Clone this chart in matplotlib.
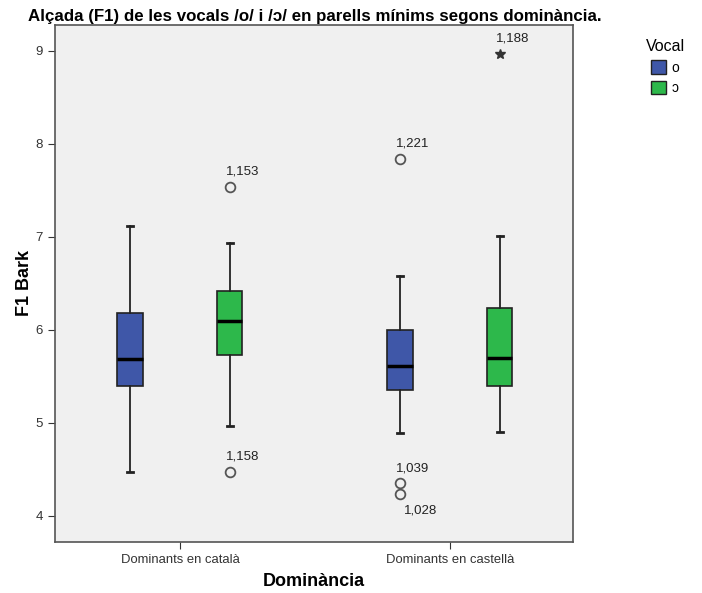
import matplotlib
matplotlib.use("Agg")
import matplotlib.pyplot as plt
import matplotlib.patches as mpatches

plt.rcParams['font.family'] = ['Liberation Sans', 'DejaVu Sans']

groups = ["Dominants en català", "Dominants en castellà"]
vocals = ["o", "ɔ"]
colors = ["#3F57A8", "#2DB84B"]

# whislo, q1, med, q3, whishi  per group, per vocal
stats_o = [(4.47, 5.40, 5.69, 6.18, 7.12), (4.89, 5.35, 5.61, 6.00, 6.58)]
stats_c = [(4.97, 5.73, 6.10, 6.42, 6.94), (4.90, 5.40, 5.70, 6.24, 7.01)]

# outliers: (group, vocal, value, label)
outliers = [(0, 1, 7.54, "1,153"), (0, 1, 4.47, "1,158"),
            (1, 0, 7.84, "1,221"), (1, 0, 4.35, "1,039"), (1, 0, 4.24, "1,028")]
extremes = [(1, 1, 8.97, "1,188")]

fig = plt.figure(figsize=(7.02, 5.93), dpi=100)
ax = fig.add_axes([0.0783, 0.086, 0.738, 0.872])
ax.set_facecolor("#F0F0F0")

offset = 0.185
width = 0.093
for v, st in enumerate([stats_o, stats_c]):
    bs = []
    pos = []
    for g, (lo, q1, med, q3, hi) in enumerate(st):
        bs.append(dict(whislo=lo, q1=q1, med=med, q3=q3, whishi=hi, fliers=[]))
        pos.append(g + (-offset if v == 0 else offset))
    ax.bxp(bs, positions=pos, widths=width, patch_artist=True, showfliers=False,
           capwidths=0.024,
           boxprops=dict(facecolor=colors[v], edgecolor="#222222", linewidth=1.2),
           medianprops=dict(color="black", linewidth=2.5),
           whiskerprops=dict(color="#222222", linewidth=1.3),
           capprops=dict(color="#222222", linewidth=2))

for g, v, val, lab in outliers:
    x = g + (-offset if v == 0 else offset)
    ax.plot(x, val, marker="o", markersize=7, markerfacecolor="none",
            markeredgecolor="#555555", markeredgewidth=1.3, linestyle="none")
    if lab == "1,028":
        ax.annotate(lab, (x, val), xytext=(3, -12), textcoords="offset points",
                    fontsize=9.5, color="#222222", va="center")
    else:
        ax.annotate(lab, (x, val), xytext=(-3, 11), textcoords="offset points",
                    fontsize=9.5, color="#222222", va="center")

for g, v, val, lab in extremes:
    x = g + (-offset if v == 0 else offset)
    ax.plot(x, val, marker="*", markersize=7, color="#333333", linestyle="none")
    ax.annotate(lab, (x, val), xytext=(-3, 11), textcoords="offset points",
                fontsize=9.5, color="#222222", va="center")

ax.set_xlim(-0.463, 1.456)
ax.set_ylim(3.72, 9.28)
ax.set_xticks([0, 1])
ax.set_xticklabels(groups, fontsize=9.4)
ax.set_yticks([4, 5, 6, 7, 8, 9])
ax.tick_params(axis="y", labelsize=9.5, length=5, colors="#333333")
ax.tick_params(axis="x", length=5, colors="#333333")
for s in ax.spines.values():
    s.set_color("#555555")
    s.set_linewidth(1.2)

ax.set_xlabel("Dominància", fontsize=13, fontweight="bold", labelpad=5)
ax.set_ylabel("F1 Bark", fontsize=13, fontweight="bold", labelpad=2)

fig.text(0.04, 0.973, "Alçada (F1) de les vocals /o/ i /ɔ/ en parells mínims segons dominància.",
         fontsize=12.2, fontweight="bold", ha="left", va="center")

handles = [mpatches.Patch(facecolor=colors[i], edgecolor="#222222", label=vocals[i])
           for i in range(2)]
fig.legend(handles=handles, title="Vocal", loc="upper left", bbox_to_anchor=(0.902, 0.955),
           frameon=False, fontsize=10, title_fontsize=11.5, handlelength=1.1,
           handleheight=1.1, handletextpad=0.4, labelspacing=0.45)

fig.savefig("out.png", dpi=100)
